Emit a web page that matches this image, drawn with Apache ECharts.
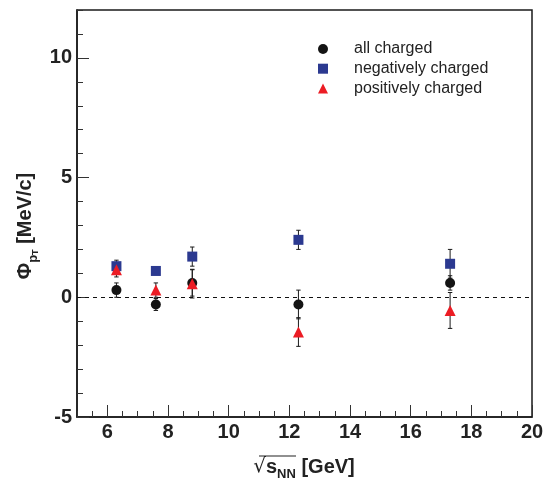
<!DOCTYPE html>
<html>
<head>
<meta charset="utf-8">
<script src="https://cdn.jsdelivr.net/npm/echarts@6/dist/echarts.min.js"></script>
<style>
html,body{margin:0;padding:0;background:#fff;}
#chart{width:549px;height:481px;}
</style>
</head>
<body>
<div id="chart"></div>
<script>
// ---- data ----
const energies = [6.3, 7.6, 8.8, 12.3, 17.3];
const allCharged = [0.3, -0.3, 0.6, -0.3, 0.6];
const allChargedErr = [0.3, 0.25, 0.55, 0.6, 0.3];
const negCharged = [1.3, 1.1, 1.7, 2.4, 1.4];
const negChargedErr = [0.25, 0.1, 0.4, 0.4, 0.6];
const posCharged = [1.15, 0.3, 0.57, -1.45, -0.55];
const posChargedErr = [0.3, 0.3, 0.6, 0.6, 0.75];
const xTickLabels = [6, 8, 10, 12, 14, 16, 18, 20];
const yTickLabels = [-5, 0, 5, 10];
const seriesNames = ['all charged', 'negatively charged', 'positively charged'];

const FONT = "'Liberation Sans', Arial, Helvetica, sans-serif";
const AX = '#1a1a1a';

function pts(vals) { return energies.map((x, i) => [x, vals[i]]); }
function errPts(vals, errs) { return energies.map((x, i) => [x, vals[i], errs[i]]); }

function errorBar(params, api) {
  const x = api.value(0), y = api.value(1), e = api.value(2);
  const top = api.coord([x, y + e]);
  const bot = api.coord([x, y - e]);
  const c = 2.2;
  const st = { stroke: '#1a1a1a', lineWidth: 1 };
  return {
    type: 'group',
    children: [
      { type: 'line', shape: { x1: top[0], y1: top[1], x2: bot[0], y2: bot[1] }, style: st },
      { type: 'line', shape: { x1: top[0] - c, y1: top[1], x2: top[0] + c, y2: top[1] }, style: st },
      { type: 'line', shape: { x1: bot[0] - c, y1: bot[1], x2: bot[0] + c, y2: bot[1] }, style: st }
    ]
  };
}

const chart = echarts.init(document.getElementById('chart'));
const option = {
  animation: false,
  backgroundColor: '#fff',
  grid: { left: 77, right: 17, top: 10, bottom: 64, show: true, borderColor: AX, borderWidth: 1.5, containLabel: false },
  legend: {
    orient: 'vertical', left: 313, top: 36,
    itemWidth: 10, itemHeight: 10, itemGap: 3.7,
    selectedMode: false,
    data: seriesNames,
    textStyle: { fontSize: 16, color: '#222', fontFamily: FONT, lineHeight: 15, padding: [0, 0, 0, 21] }
  },
  xAxis: [
    {
      type: 'value', min: 5, max: 20,
      axisLine: { show: true, onZero: false, lineStyle: { color: AX, width: 1.5 } },
      axisTick: { show: true, inside: true, length: 12, customValues: xTickLabels, lineStyle: { color: '#333', width: 1 } },
      axisLabel: { customValues: xTickLabels, fontSize: 20, fontWeight: 'bold', color: '#222', fontFamily: FONT, margin: 5 },
      splitLine: { show: false }
    },
    {
      type: 'value', min: 5, max: 20, interval: 0.5, position: 'bottom',
      axisLine: { show: false, onZero: false },
      axisTick: { show: true, inside: true, length: 6, lineStyle: { color: '#333', width: 1 } },
      axisLabel: { show: false },
      splitLine: { show: false }
    }
  ],
  yAxis: [
    {
      type: 'value', min: -5, max: 12, interval: 5,
      axisLine: { show: true, onZero: false, lineStyle: { color: AX, width: 1.5 } },
      axisTick: { show: true, inside: true, length: 12, customValues: yTickLabels, lineStyle: { color: '#333', width: 1 } },
      axisLabel: { customValues: yTickLabels, fontSize: 20, fontWeight: 'bold', color: '#222', fontFamily: FONT, margin: 5, padding: [6, 0, 0, 0] },
      splitLine: { show: false }
    },
    {
      type: 'value', min: -5, max: 12, interval: 1, position: 'left',
      axisLine: { show: false, onZero: false },
      axisTick: { show: true, inside: true, length: 6, lineStyle: { color: '#333', width: 1 } },
      axisLabel: { show: false },
      splitLine: { show: false }
    }
  ],
  series: [
    { name: 'err-all', type: 'custom', renderItem: errorBar, data: errPts(allCharged, allChargedErr), z: 1, silent: true },
    { name: 'err-neg', type: 'custom', renderItem: errorBar, data: errPts(negCharged, negChargedErr), z: 1, silent: true },
    { name: 'err-pos', type: 'custom', renderItem: errorBar, data: errPts(posCharged, posChargedErr), z: 1, silent: true },
    {
      name: seriesNames[1], type: 'scatter', symbol: 'rect', symbolSize: 10,
      itemStyle: { color: '#2b3990', opacity: 1 }, data: pts(negCharged), z: 3
    },
    {
      name: seriesNames[0], type: 'scatter', symbol: 'circle', symbolSize: 10,
      itemStyle: { color: '#141414', opacity: 1 }, data: pts(allCharged), z: 4,
      markLine: {
        silent: true, symbol: ['none', 'none'], label: { show: false },
        lineStyle: { type: [4, 4], color: '#111', width: 1 },
        data: [{ yAxis: 0 }]
      }
    },
    {
      name: seriesNames[2], type: 'scatter', symbol: 'triangle', symbolSize: 11,
      itemStyle: { color: '#ec1c24', opacity: 1 }, data: pts(posCharged), z: 5
    }
  ],
  graphic: [
    {
      type: 'text', x: 25, y: 226, rotation: Math.PI / 2,
      style: {
        text: '{phi|Φ}{p|p}{t|T}{u| [MeV/c]}',
        align: 'center', verticalAlign: 'middle', fill: '#222',
        rich: {
          phi: { fontSize: 20, fontWeight: 'bold', fontFamily: FONT, lineHeight: 30, fill: '#222' },
          p: { fontSize: 13, fontWeight: 'bold', fontFamily: FONT, lineHeight: 15, verticalAlign: 'bottom', fill: '#222' },
          t: { fontSize: 9, fontWeight: 'bold', fontFamily: FONT, lineHeight: 8, verticalAlign: 'bottom', fill: '#222' },
          u: { fontSize: 20, fontWeight: 'bold', fontFamily: FONT, lineHeight: 30, fill: '#222' }
        }
      }
    },
    {
      type: 'text', x: 304, y: 467,
      style: {
        text: '{sq|√}{s|s}{nn|NN}{u| [GeV]}',
        align: 'center', verticalAlign: 'middle', fill: '#222',
        rich: {
          sq: { fontSize: 20, fontFamily: 'DejaVu Sans', lineHeight: 28, fill: '#222' },
          s: { fontSize: 20, fontWeight: 'bold', fontFamily: FONT, lineHeight: 28, fill: '#222' },
          nn: { fontSize: 13, fontWeight: 'bold', fontFamily: FONT, lineHeight: 15, verticalAlign: 'bottom', fill: '#222' },
          u: { fontSize: 20, fontWeight: 'bold', fontFamily: FONT, lineHeight: 28, fill: '#222' }
        }
      }
    },
    {
      type: 'line', shape: { x1: 259, y1: 456, x2: 296, y2: 456 },
      style: { stroke: '#222', lineWidth: 1.2 }
    }
  ]
};
chart.setOption(option);
</script>
</body>
</html>
